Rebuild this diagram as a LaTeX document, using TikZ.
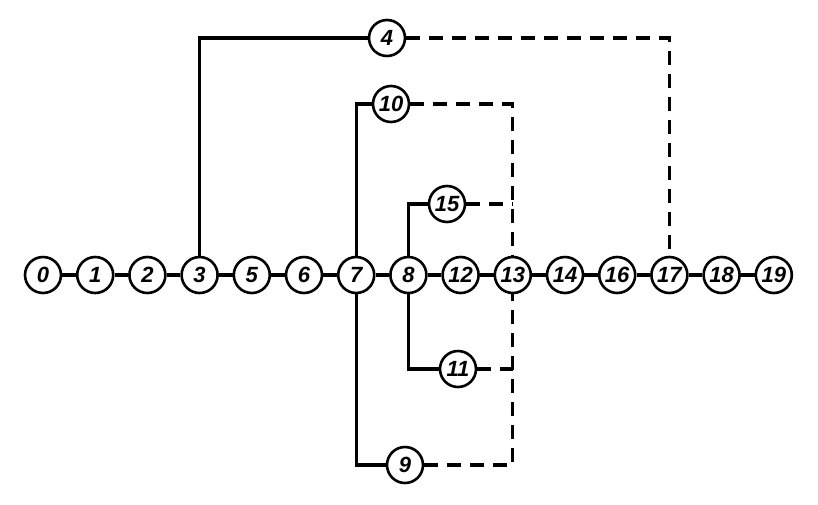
\documentclass[tikz,border=0pt]{standalone}
\usepackage{fontspec}
\setsansfont{Liberation Sans}
\usetikzlibrary{
  calc,
  positioning
}

\begin{document}
\begin{tikzpicture}[
  x=1pt, y=-1pt,
  node distance=13.6pt,
  stage/.style={draw, circle, line width=2.6pt, minimum size=36pt, inner sep=0pt,
    font=\sffamily\bfseries\itshape\fontsize{22}{22}\selectfont},
  link/.style={line width=3.2pt},
  dummy/.style={line width=3.2pt, dash pattern=on 14pt off 9pt}
]
\useasboundingbox (0,0) rectangle (818,504);

% main chain
\node[stage] (s0) at (43,275) {0};
\node[stage, right=of s0] (s1) {1};
\node[stage, right=of s1] (s2) {2};
\node[stage, right=of s2] (s3) {3};
\node[stage, right=of s3] (s5) {5};
\node[stage, right=of s5] (s6) {6};
\node[stage, right=of s6] (s7) {7};
\node[stage, right=of s7] (s8) {8};
\node[stage, right=of s8] (s12) {12};
\node[stage, right=of s12] (s13) {13};
\node[stage, right=of s13] (s14) {14};
\node[stage, right=of s14] (s16) {16};
\node[stage, right=of s16] (s17) {17};
\node[stage, right=of s17] (s18) {18};
\node[stage, right=of s18] (s19) {19};

\foreach \a/\b in {s0/s1, s1/s2, s2/s3, s3/s5, s5/s6, s6/s7, s7/s8, s8/s12,
  s12/s13, s13/s14, s14/s16, s16/s17, s17/s18, s18/s19}
  \draw[link] (\a) -- (\b);

% branches
\node[stage] (s4) at (387,38) {4};
\node[stage] (s10) at (391,104) {10};
\node[stage] (s15) at (447,204) {15};
\node[stage] (s11) at (458,369) {11};
\node[stage] (s9) at (405,465) {9};

\draw[link] (s3) |- (s4);
\draw[dummy] (s4) -| (s17);
\draw[link] (s7) |- (s10);
\draw[dummy] (s10) -| (s13);
\draw[link] (s8) |- (s15);
\draw[dummy] (s15) -- (s15 -| s13);
\draw[link] (s8) |- (s11);
\draw[dummy] (s11) -- (s11 -| s13);
\draw[link] (s7) |- (s9);
\draw[dummy] (s9) -| (s13);
\end{tikzpicture}
\end{document}
